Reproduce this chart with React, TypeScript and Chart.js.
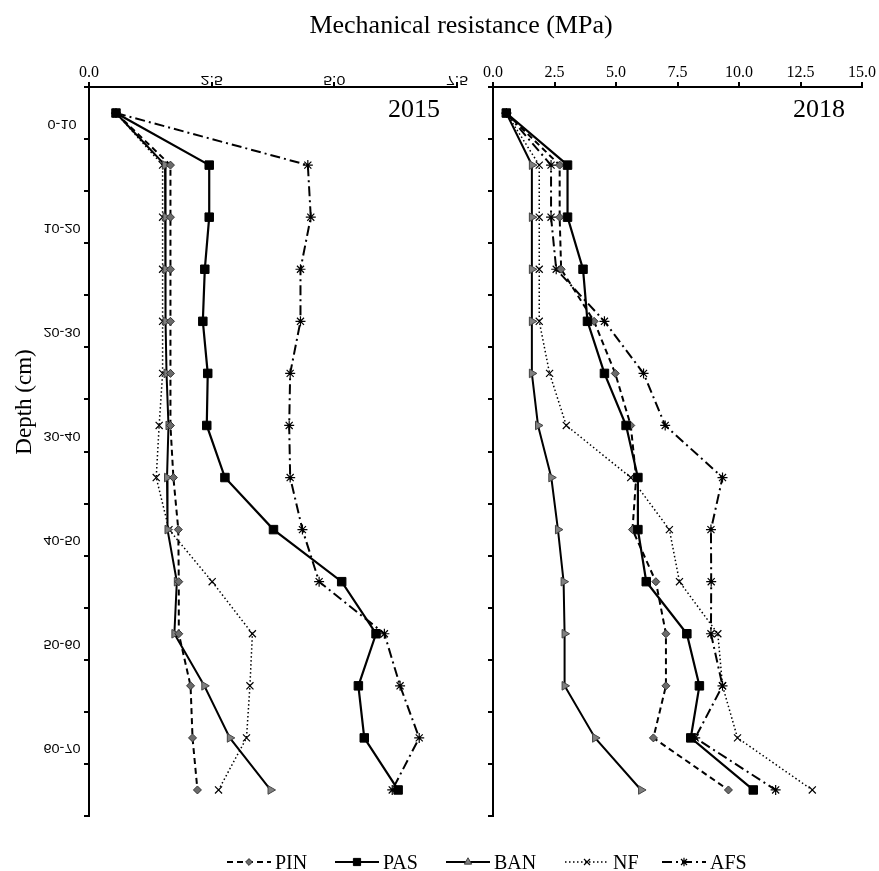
import React, { useEffect, useRef } from 'react';
import { Chart, registerables } from 'chart.js';
Chart.register(...registerables);

// ---------- data ----------
const depthLabels = ['0-10', '', '10-20', '', '20-30', '', '30-40', '', '40-50', '', '50-60', '', '60-70', ''];
const seriesNames = ['PIN', 'PAS', 'BAN', 'NF', 'AFS'];

const pin2015 = [0.55, 1.66, 1.66, 1.66, 1.66, 1.66, 1.66, 1.72, 1.82, 1.83, 1.83, 2.07, 2.11, 2.21];
const pas2015 = [0.55, 2.45, 2.45, 2.36, 2.32, 2.42, 2.40, 2.77, 3.76, 5.15, 5.85, 5.49, 5.61, 6.30];
const ban2015 = [0.55, 1.55, 1.56, 1.56, 1.56, 1.58, 1.62, 1.59, 1.60, 1.79, 1.74, 2.35, 2.87, 3.70];
const nf2015 = [0.55, 1.50, 1.50, 1.50, 1.50, 1.50, 1.43, 1.37, 1.63, 2.51, 3.33, 3.28, 3.21, 2.64];
const afs2015 = [0.55, 4.46, 4.52, 4.31, 4.31, 4.10, 4.08, 4.10, 4.35, 4.69, 6.02, 6.34, 6.73, 6.18];

const pin2018 = [0.54, 2.71, 2.71, 2.77, 4.11, 4.97, 5.60, 5.82, 5.67, 6.62, 7.03, 7.03, 6.52, 9.57];
const pas2018 = [0.54, 3.03, 3.03, 3.66, 3.84, 4.53, 5.41, 5.89, 5.89, 6.23, 7.88, 8.39, 8.04, 10.58];
const ban2018 = [0.54, 1.58, 1.58, 1.58, 1.58, 1.58, 1.83, 2.37, 2.64, 2.87, 2.91, 2.91, 4.15, 6.02];
const nf2018 = [0.54, 1.88, 1.88, 1.88, 1.88, 2.30, 2.98, 5.60, 7.17, 7.58, 9.14, 9.33, 9.94, 12.98];
const afs2018 = [0.54, 2.36, 2.36, 2.57, 4.53, 6.12, 7.00, 9.33, 8.86, 8.87, 8.86, 9.33, 8.22, 11.49];

const ticks2015 = [0, 2.5, 5, 7.5];
const ticks2018 = [0, 2.5, 5, 7.5, 10, 12.5, 15];

const titleText = 'Mechanical resistance (MPa)';
const yTitleText = 'Depth (cm)';

// ---------- styles ----------
const SERIF = '"Liberation Serif", "Times New Roman", serif';
const SANS = '"Liberation Sans", Arial, sans-serif';

const styles = [
  { borderWidth: 2, borderDash: [6, 4], pointStyle: 'rectRot', pointRadius: 4, bg: '#6b6b6b', pb: '#333', pbw: 1, rot: 0, order: 1 },
  { borderWidth: 2.2, borderDash: [], pointStyle: 'rect', pointRadius: 6, bg: '#000', pb: '#000', pbw: 1, rot: 0, order: 0 },
  { borderWidth: 2, borderDash: [], pointStyle: 'triangle', pointRadius: 5, bg: '#808080', pb: '#444', pbw: 1, rot: 90, order: 1 },
  { borderWidth: 1.5, borderDash: [1.5, 2.5], pointStyle: 'crossRot', pointRadius: 5, bg: '#000', pb: '#000', pbw: 1.2, rot: 0, order: 1 },
  { borderWidth: 2, borderDash: [10, 4, 2, 4], pointStyle: 'star', pointRadius: 5, bg: '#000', pb: '#000', pbw: 1.2, rot: 0, order: 1 },
];

function makeDatasets(series: number[][]) {
  return series.map((d, i) => {
    const s = styles[i];
    return {
      label: seriesNames[i],
      data: d,
      order: s.order,
      borderColor: '#000',
      borderWidth: s.borderWidth,
      borderDash: s.borderDash,
      pointStyle: s.pointStyle as any,
      pointRadius: s.pointRadius,
      pointBackgroundColor: s.bg,
      pointBorderColor: s.pb,
      pointBorderWidth: s.pbw,
      pointRotation: s.rot,
      tension: 0,
      fill: false,
      clip: false as any,
    };
  });
}

function flippedText(ctx: CanvasRenderingContext2D, text: string, x: number, y: number, sy: number) {
  ctx.save();
  ctx.translate(x, y);
  ctx.scale(1, -sy);
  ctx.textAlign = 'center';
  ctx.textBaseline = 'middle';
  ctx.fillText(text, 0, 0);
  ctx.restore();
}

function drawMarker(ctx: CanvasRenderingContext2D, style: string, x: number, y: number, r: number) {
  ctx.save();
  ctx.translate(x, y);
  ctx.beginPath();
  if (style === 'rectRot') {
    ctx.moveTo(0, -r);
    ctx.lineTo(r, 0);
    ctx.lineTo(0, r);
    ctx.lineTo(-r, 0);
    ctx.closePath();
    ctx.fill();
    ctx.stroke();
  } else if (style === 'rect') {
    const s = r * Math.SQRT1_2;
    ctx.rect(-s, -s, 2 * s, 2 * s);
    ctx.fill();
    ctx.stroke();
  } else if (style === 'triangle') {
    const h = (r * 3) / Math.sqrt(3);
    ctx.moveTo(0, -r);
    ctx.lineTo(h / 2, r / 2);
    ctx.lineTo(-h / 2, r / 2);
    ctx.closePath();
    ctx.fill();
    ctx.stroke();
  } else if (style === 'crossRot') {
    const s = r * Math.SQRT1_2;
    ctx.moveTo(-s, -s);
    ctx.lineTo(s, s);
    ctx.moveTo(-s, s);
    ctx.lineTo(s, -s);
    ctx.stroke();
  } else if (style === 'star') {
    const s = r * Math.SQRT1_2;
    ctx.moveTo(-s, -s);
    ctx.lineTo(s, s);
    ctx.moveTo(-s, s);
    ctx.lineTo(s, -s);
    ctx.moveTo(0, -r);
    ctx.lineTo(0, r);
    ctx.stroke();
  }
  ctx.restore();
}

function makeConfig(
  series: number[][],
  xMax: number,
  tickVals: number[],
  pad: { left: number; right: number },
  yearLabel: string,
  isLeft: boolean
) {
  const labelsPlugin = {
    id: 'customLabels' + (isLeft ? 'L' : 'R'),
    afterDraw(chart: any) {
      const ctx: CanvasRenderingContext2D = chart.ctx;
      const xs = chart.scales.x;
      const ys = chart.scales.y;
      const area = chart.chartArea;
      ctx.save();
      ctx.fillStyle = '#000';
      // x tick labels
      tickVals.forEach((v) => {
        const px = xs.getPixelForValue(v);
        const txt = v.toFixed(1);
        if (isLeft && v !== 0) {
          ctx.font = '16px ' + SANS;
          flippedText(ctx, txt, px, 79, 0.75);
        } else {
          ctx.font = '16px ' + SERIF;
          ctx.textAlign = 'center';
          ctx.textBaseline = 'alphabetic';
          ctx.fillText(txt, px, 77);
        }
      });
      // year label
      ctx.font = '26px ' + SERIF;
      ctx.textAlign = 'right';
      ctx.textBaseline = 'alphabetic';
      ctx.fillText(yearLabel, area.right - 17, 117);

      if (isLeft) {
        // y tick labels (flipped)
        ctx.font = '14.5px ' + SANS;
        depthLabels.forEach((lab, i) => {
          if (!lab) return;
          const py = ys.getPixelForValue(i);
          flippedText(ctx, lab, 62, py + 10, 0.85);
        });
        // axis titles
        ctx.font = '26px ' + SERIF;
        ctx.textAlign = 'center';
        ctx.textBaseline = 'alphabetic';
        ctx.fillText(titleText, 461, 33);
        ctx.save();
        ctx.translate(31, 402);
        ctx.rotate(-Math.PI / 2);
        ctx.font = '23px ' + SERIF;
        ctx.textAlign = 'center';
        ctx.textBaseline = 'alphabetic';
        ctx.fillText(yTitleText, 0, 0);
        ctx.restore();
      } else {
        // legend
        const starts = [227, 335, 446, 565, 662];
        const ly = 862;
        seriesNames.forEach((name, i) => {
          const s = styles[i];
          const x0 = starts[i];
          const x1 = x0 + 44;
          ctx.save();
          ctx.strokeStyle = '#000';
          ctx.lineWidth = s.borderWidth;
          ctx.setLineDash(s.borderDash);
          ctx.beginPath();
          ctx.moveTo(x0, ly);
          ctx.lineTo(x1, ly);
          ctx.stroke();
          ctx.setLineDash([]);
          ctx.fillStyle = s.bg;
          ctx.strokeStyle = s.pb;
          ctx.lineWidth = s.pbw;
          drawMarker(ctx, s.pointStyle, (x0 + x1) / 2, ly, s.pointRadius * 0.85);
          ctx.restore();
          ctx.fillStyle = '#000';
          ctx.font = '20px ' + SERIF;
          ctx.textAlign = 'left';
          ctx.textBaseline = 'alphabetic';
          ctx.fillText(name, x1 + 4, 869);
        });
      }
      ctx.restore();
    },
  };

  return {
    type: 'line' as const,
    data: {
      labels: depthLabels,
      datasets: makeDatasets(series),
    },
    options: {
      animation: false as const,
      responsive: false,
      indexAxis: 'y' as const,
      layout: { padding: { left: pad.left, right: pad.right, top: 0, bottom: 55 } },
      plugins: { legend: { display: false }, tooltip: { enabled: false } },
      scales: {
        x: {
          type: 'linear' as const,
          position: 'top' as const,
          min: 0,
          max: xMax,
          ticks: { display: false, stepSize: 2.5 },
          grid: { drawOnChartArea: false, drawTicks: true, tickLength: 5, color: '#000', lineWidth: 2 },
          border: { display: true, color: '#000', width: 2 },
          afterFit: (s: any) => {
            s.height = 87;
          },
        },
        y: {
          type: 'category' as const,
          offset: true,
          ticks: { display: false, autoSkip: false },
          grid: { offset: true, drawOnChartArea: false, drawTicks: true, tickLength: 5, color: '#000', lineWidth: 2 },
          border: { display: true, color: '#000', width: 2 },
          afterFit: (s: any) => {
            s.width = 89;
          },
        },
      },
    },
    plugins: [labelsPlugin],
  };
}

export default function App() {
  const leftRef = useRef<HTMLCanvasElement>(null);
  const rightRef = useRef<HTMLCanvasElement>(null);

  useEffect(() => {
    const c1 = new Chart(
      leftRef.current as HTMLCanvasElement,
      makeConfig([pin2015, pas2015, ban2015, nf2015, afs2015], 7.5, ticks2015, { left: 0, right: 422 }, '2015', true) as any
    );
    const c2 = new Chart(
      rightRef.current as HTMLCanvasElement,
      makeConfig([pin2018, pas2018, ban2018, nf2018, afs2018], 15, ticks2018, { left: 404, right: 17 }, '2018', false) as any
    );
    return () => {
      c1.destroy();
      c2.destroy();
    };
  }, []);

  const canvasStyle: React.CSSProperties = { position: 'absolute', left: 0, top: 0, width: 879, height: 871 };
  return (
    <div style={{ position: 'absolute', left: 0, top: 0, width: 879, height: 871, background: '#fff' }}>
      <canvas ref={leftRef} width={879} height={871} style={canvasStyle} />
      <canvas ref={rightRef} width={879} height={871} style={canvasStyle} />
    </div>
  );
}
